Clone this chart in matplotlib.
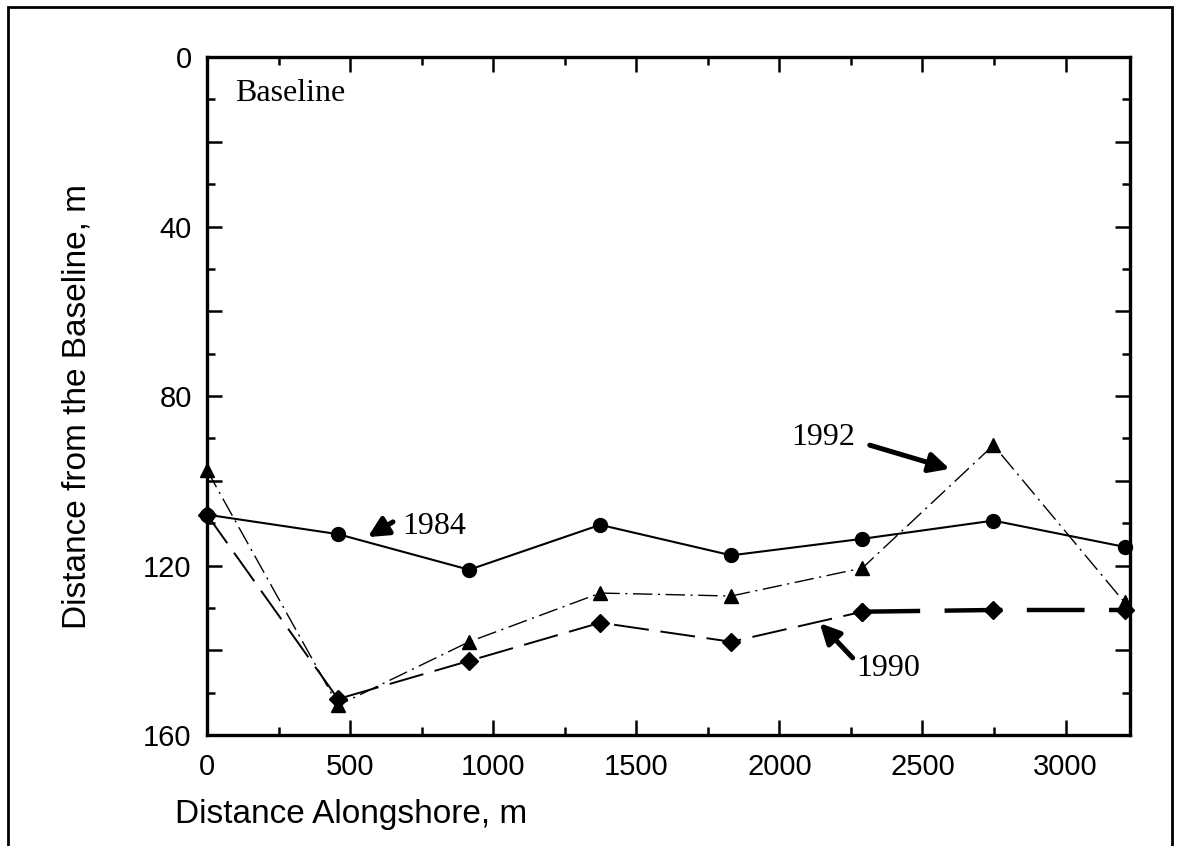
import matplotlib
matplotlib.use("Agg")
import matplotlib.pyplot as plt
from matplotlib.patches import Rectangle
from matplotlib.ticker import MultipleLocator

# Survey stations along the shore (m)
alongshore = [0, 458, 916, 1374, 1832, 2290, 2748, 3206]

# Shoreline position from the baseline (m) per survey year
y1984 = [108, 112.6, 121, 110.4, 117.6, 113.7, 109.4, 115.6]
y1990 = [108, 151.5, 142.5, 133.5, 138, 130.9, 130.5, 130.5]
y1992 = [97.5, 153, 138, 126.5, 127.2, 120.6, 91.6, 128.7]

x_ticks = [0, 500, 1000, 1500, 2000, 2500, 3000]
x_tick_labels = ["0", "500", "1000", "1500", "2000", "2500", "3000"]
y_ticks = [0, 40, 80, 120, 160]
y_tick_labels = ["0", "40", "80", "120", "160"]
y_mid_ticks = [20, 60, 100, 140]

SANS = ["Liberation Sans", "DejaVu Sans"]
SERIF = ["Liberation Serif", "DejaVu Serif"]

fig = plt.figure(figsize=(11.8, 8.46), dpi=100)
ax = fig.add_axes([0.1754, 0.1312, 0.7822, 0.8014])

# 1984: solid line with circles
ax.plot(alongshore, y1984, color="black", lw=1.5, ls="-",
        marker="o", ms=10, clip_on=False, zorder=4)

# 1992: thin dash-dot line with triangles
ax.plot(alongshore, y1992, color="black", lw=1.0, ls=(0, (14, 4, 1.5, 4)),
        marker="^", ms=10, clip_on=False, zorder=3)

# 1990: long dashes with diamonds, heavier over the last stations
ax.plot(alongshore[:6], y1990[:6], color="black", lw=1.4, ls=(0, (18, 6)),
        marker="D", ms=9, clip_on=False, zorder=3)
ax.plot(alongshore[5:], y1990[5:], color="black", lw=3.2, ls=(0, (13, 5.5)),
        marker="D", ms=9, clip_on=False, zorder=3)

ax.set_xlim(0, 3225)
ax.set_ylim(160, 0)

ax.set_xticks(x_ticks)
ax.set_xticklabels(x_tick_labels, family=SANS, fontsize=21)
# Major ticks every 20 m on the distance axis, labelled every 40
ax.set_yticks(y_ticks + y_mid_ticks)
ax.set_yticklabels(y_tick_labels + [""] * len(y_mid_ticks),
                   family=SANS, fontsize=21)
ax.xaxis.set_minor_locator(MultipleLocator(250))
ax.yaxis.set_minor_locator(MultipleLocator(10))

ax.tick_params(which="both", direction="in", top=True, right=True, width=1.8)
ax.tick_params(which="major", length=11)
ax.tick_params(which="minor", length=6)
ax.tick_params(axis="x", which="major", pad=13)
ax.tick_params(axis="y", which="major", pad=11)
for s in ax.spines.values():
    s.set_linewidth(2.4)

fig.text(0.065, 0.52, "Distance from the Baseline, m", rotation=90,
         ha="center", va="center", family=SANS, fontsize=24)
fig.text(0.148, 0.027, "Distance Alongshore, m", ha="left", va="baseline",
         family=SANS, fontsize=24)

ax.text(98, 8.5, "Baseline", ha="left", va="center", family=SERIF, fontsize=23)

arrow = dict(arrowstyle="-|>", lw=3.6, color="black", mutation_scale=30,
             shrinkA=0, shrinkB=0)
ax.annotate("", xy=(562, 113.3), xytext=(650, 109.7), arrowprops=arrow)
ax.text(681, 110.9, "1984", ha="left", va="center", family=SERIF, fontsize=23)

ax.annotate("", xy=(2595, 97.2), xytext=(2316, 91.6), arrowprops=arrow)
ax.text(2263, 89.7, "1992", ha="right", va="center", family=SERIF, fontsize=23)

ax.annotate("", xy=(2141, 133.6), xytext=(2256, 141.8), arrowprops=arrow)
ax.text(2270, 144.2, "1990", ha="left", va="center", family=SERIF, fontsize=23)

# Outer border around the whole figure panel
fig.patches.append(Rectangle((8 / 1180, -0.05), 1164 / 1180, 1.05 - 7 / 846,
                             transform=fig.transFigure, fill=False,
                             lw=2.0, ec="black"))

fig.savefig("out.png", dpi=100)
